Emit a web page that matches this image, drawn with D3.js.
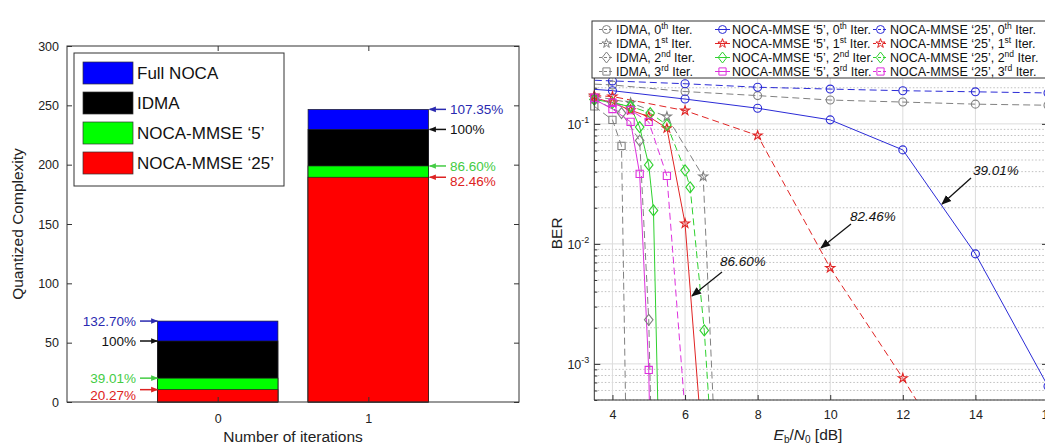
<!DOCTYPE html>
<html>
<head>
<meta charset="utf-8">
<script src="https://cdn.jsdelivr.net/npm/d3@7"></script>
<style>
  body { margin: 0; background: #fff; }
  svg { font-family: "Liberation Sans", Arial, sans-serif; }
</style>
</head>
<body>
<svg id="chart" width="1045" height="446"></svg>
<script>
// ---- left panel data: quantized complexity per iteration ----
const iterations = [0, 1];
const fullNoca = [68.2, 246.6];
const idma = [51.4, 229.7];
const nocaMmse5 = [20.1, 198.9];
const nocaMmse25 = [10.4, 189.4];
const pctLeft = [["132.70%", "100%", "39.01%", "20.27%"], ["107.35%", "100%", "86.60%", "82.46%"]];
const barTicks = [0, 50, 100, 150, 200, 250, 300];

// ---- right panel data: BER vs Eb/N0 ----
const ebno0 = [2, 4, 6, 8, 10, 12, 14, 16];
const berIdma0 = [0.225, 0.211, 0.186, 0.172, 0.158, 0.152, 0.146, 0.143];
const berNoca5_0 = [0.21, 0.189, 0.161, 0.135, 0.108, 0.0607, 0.00826, 0.00065];
const berNoca25_0 = [0.24, 0.228, 0.216, 0.202, 0.195, 0.189, 0.185, 0.181];

const ebnoIdma1 = [3.5, 4.5, 5.5, 6.5, 7.5];
const berIdma1 = [0.17, 0.15, 0.115, 0.0364, 5e-9];
const ebnoIdma2 = [3.5, 4.25, 4.75, 5.0, 5.25];
const berIdma2 = [0.16, 0.123, 0.0726, 0.00233, 1e-6];
const ebnoIdma3 = [3.5, 4, 4.25, 4.5];
const berIdma3 = [0.14, 0.108, 0.0656, 1e-6];

const ebnoNoca5_1 = [3.5, 4, 4.5, 5, 5.5, 6, 6.5];
const berNoca5_1 = [0.165, 0.15, 0.13, 0.115, 0.092, 0.0148, 1.7e-4];
const ebnoNoca25_1 = [3.5, 4, 6, 8, 10, 12, 14];
const berNoca25_1 = [0.172, 0.169, 0.129, 0.08, 0.0063, 7.6e-4, 8e-5];

const ebnoNoca5_2 = [3.5, 4, 4.5, 4.75, 5.0, 5.13, 5.3];
const berNoca5_2 = [0.16, 0.15, 0.139, 0.094, 0.0455, 0.019, 1e-4];
const ebnoNoca25_2 = [3.5, 4.5, 5.04, 5.5, 6.0, 6.14, 6.53, 6.8];
const berNoca25_2 = [0.16, 0.14, 0.123, 0.098, 0.041, 0.0296, 0.0019, 1e-4];

const ebnoNoca5_3 = [3.5, 4, 4.5, 4.75, 5.0, 5.25];
const berNoca5_3 = [0.16, 0.133, 0.104, 0.0383, 8.9e-4, 1e-7];
const ebnoNoca25_3 = [3.5, 4, 4.5, 5.0, 5.5, 6.0, 6.5];
const berNoca25_3 = [0.165, 0.15, 0.13, 0.104, 0.0369, 4e-4, 1e-7];

const xTicksRight = [4, 6, 8, 10, 12, 14, 16];

const svg = d3.select("#chart");

// ================= left panel =================
const xL = d3.scaleLinear().domain([-1, 2]).range([67, 519]);
const yL = d3.scaleLinear().domain([0, 300]).range([402, 46]);
const bw = xL(0.4) - xL(-0.4);
const barColors = ["#0000ff", "#000000", "#00ff00", "#ff0000"];
const barSeries = [fullNoca, idma, nocaMmse5, nocaMmse25];

const left = svg.append("g");
barSeries.forEach((vals, s) => {
  left.selectAll(null).data(iterations).enter().append("rect")
    .attr("x", d => xL(d) - bw / 2)
    .attr("y", (d, i) => yL(vals[i]))
    .attr("width", bw)
    .attr("height", (d, i) => yL(0) - yL(vals[i]))
    .attr("fill", barColors[s])
    .attr("stroke", "#222").attr("stroke-width", 0.7);
});

// frame
left.append("rect").attr("x", 67).attr("y", 46).attr("width", 452).attr("height", 356)
  .attr("fill", "none").attr("stroke", "#333").attr("stroke-width", 1);

left.append("g").attr("transform", "translate(67,0)")
  .call(d3.axisLeft(yL).tickValues(barTicks).tickSize(-5).tickPadding(8))
  .call(g => g.select(".domain").remove())
  .call(g => g.selectAll("text").attr("font-size", 12.5).attr("fill", "#222"));
left.append("g").attr("transform", "translate(519,0)")
  .call(d3.axisRight(yL).tickValues(barTicks).tickSize(-5).tickFormat(""))
  .call(g => g.select(".domain").remove());
left.append("g").attr("transform", "translate(0,402)")
  .call(d3.axisBottom(xL).tickValues(iterations).tickSize(-5).tickPadding(12).tickFormat(d3.format("d")))
  .call(g => g.select(".domain").remove())
  .call(g => g.selectAll("text").attr("font-size", 12.5).attr("fill", "#222"));
left.append("g").attr("transform", "translate(0,46)")
  .call(d3.axisTop(xL).tickValues(iterations).tickSize(-5).tickFormat(""))
  .call(g => g.select(".domain").remove());
left.selectAll(".tick line").attr("stroke", "#333");

left.append("text").attr("x", 293).attr("y", 442).attr("text-anchor", "middle")
  .attr("font-size", 15.5).attr("fill", "#222").text("Number of iterations");
left.append("text").attr("transform", "translate(23,224) rotate(-90)").attr("text-anchor", "middle")
  .attr("font-size", 15.5).attr("fill", "#222").text("Quantized Complexity");

// legend
const legNames = ["Full NOCA", "IDMA", "NOCA-MMSE \u20185\u2019", "NOCA-MMSE \u201825\u2019"];
left.append("rect").attr("x", 74).attr("y", 53).attr("width", 210).attr("height", 133)
  .attr("fill", "#fff").attr("stroke", "#333");
legNames.forEach((n, i) => {
  const cy = 73 + i * 30;
  left.append("rect").attr("x", 83).attr("y", cy - 11).attr("width", 50).attr("height", 22)
    .attr("fill", barColors[i]).attr("stroke", "#333").attr("stroke-width", 0.7);
  left.append("text").attr("x", 137).attr("y", cy + 6).attr("font-size", 17).attr("fill", "#111").text(n);
});

// percentage arrows
const defs = svg.append("defs");
["#2a2ab0", "#111111", "#44cc44", "#dd2222"].forEach((c, i) => {
  defs.append("marker").attr("id", "ah" + i).attr("viewBox", "0 0 10 10")
    .attr("refX", 9).attr("refY", 5).attr("markerWidth", 7).attr("markerHeight", 7)
    .attr("markerUnits", "userSpaceOnUse").attr("orient", "auto")
    .append("path").attr("d", "M0,1 L10,5 L0,9 Z").attr("fill", c);
});
defs.append("marker").attr("id", "ahk").attr("viewBox", "0 0 10 10")
  .attr("refX", 9).attr("refY", 5).attr("markerWidth", 10).attr("markerHeight", 10)
  .attr("markerUnits", "userSpaceOnUse").attr("orient", "auto")
  .append("path").attr("d", "M0,1 L10,5 L0,9 Z").attr("fill", "#111");

const pctColors = ["#2a2ab0", "#111111", "#44cc44", "#dd2222"];
barSeries.forEach((vals, s) => {
  // iteration 0: arrows pointing right, text on the left
  const yv0 = yL(vals[0]);
  const ty0 = s === 3 ? yv0 + 5 : yv0;
  left.append("line").attr("x1", 140).attr("y1", yv0).attr("x2", xL(0) - bw / 2).attr("y2", yv0)
    .attr("stroke", pctColors[s]).attr("stroke-width", 1.5).attr("marker-end", `url(#ah${s})`);
  left.append("text").attr("x", 136).attr("y", ty0 + 5).attr("text-anchor", "end")
    .attr("font-size", 13.5).attr("fill", pctColors[s]).text(pctLeft[0][s]);
  // iteration 1: arrows pointing left, text on the right
  const yv1 = yL(vals[1]);
  const ty1 = s === 3 ? yv1 + 4 : yv1;
  left.append("line").attr("x1", 446).attr("y1", yv1).attr("x2", xL(1) + bw / 2 + 1).attr("y2", yv1)
    .attr("stroke", pctColors[s]).attr("stroke-width", 1.5).attr("marker-end", `url(#ah${s})`);
  left.append("text").attr("x", 450).attr("y", ty1 + 5).attr("text-anchor", "start")
    .attr("font-size", 13.5).attr("fill", pctColors[s]).text(pctLeft[1][s]);
});

// ================= right panel =================
const yMin = 5e-4, yMax = 0.3;
const x0 = 594.3, x1 = 1048, yBot = 400;
const yTop = yBot - 120 * Math.log10(yMax / yMin);
const xR = d3.scaleLinear().domain([3.5, 16]).range([x0, x1]);
const yR = d3.scaleLog().domain([yMin, yMax]).range([yBot, yTop]);
const right = svg.append("g");

right.append("clipPath").attr("id", "plotclip").append("rect")
  .attr("x", x0).attr("y", yTop).attr("width", x1 - x0).attr("height", yBot - yTop);

// grid
const minorY = [];
[1e-4, 1e-3, 1e-2, 1e-1].forEach(d => {
  for (let k = 2; k <= 9; k++) if (d * k >= yMin && d * k <= yMax) minorY.push(d * k);
});
right.selectAll(null).data(minorY).enter().append("line")
  .attr("x1", x0).attr("x2", x1).attr("y1", d => yR(d)).attr("y2", d => yR(d))
  .attr("stroke", "#b0b0b0").attr("stroke-width", 0.8).attr("stroke-dasharray", "1.5,2");
right.selectAll(null).data([1e-3, 1e-2, 1e-1]).enter().append("line")
  .attr("x1", x0).attr("x2", x1).attr("y1", d => yR(d)).attr("y2", d => yR(d))
  .attr("stroke", "#dcdcdc").attr("stroke-width", 1);
right.selectAll(null).data(xTicksRight).enter().append("line")
  .attr("x1", d => xR(d)).attr("x2", d => xR(d)).attr("y1", yTop).attr("y2", yBot)
  .attr("stroke", "#dcdcdc").attr("stroke-width", 1);

// series
const gray = "#808080", blue = "#2b2bd6", red = "#e02424", green = "#2fd12f", mag = "#dd30dd";
const series = [
  { x: ebno0, y: berIdma0, c: gray, dash: true, m: "o" },
  { x: ebnoIdma1, y: berIdma1, c: gray, dash: true, m: "p" },
  { x: ebnoIdma2, y: berIdma2, c: gray, dash: true, m: "d" },
  { x: ebnoIdma3, y: berIdma3, c: gray, dash: true, m: "s" },
  { x: ebno0, y: berNoca5_0, c: blue, dash: false, m: "o" },
  { x: ebnoNoca5_1, y: berNoca5_1, c: red, dash: false, m: "p" },
  { x: ebnoNoca5_2, y: berNoca5_2, c: green, dash: false, m: "d" },
  { x: ebnoNoca5_3, y: berNoca5_3, c: mag, dash: false, m: "s" },
  { x: ebno0, y: berNoca25_0, c: blue, dash: true, m: "o" },
  { x: ebnoNoca25_1, y: berNoca25_1, c: red, dash: true, m: "p" },
  { x: ebnoNoca25_2, y: berNoca25_2, c: green, dash: true, m: "d" },
  { x: ebnoNoca25_3, y: berNoca25_3, c: mag, dash: true, m: "s" }
];

function markerPath(m) {
  if (m === "o") return d3.symbol(d3.symbolCircle, 50)();
  if (m === "p") return d3.symbol(d3.symbolStar, 26)();
  if (m === "s") return d3.symbol(d3.symbolSquare, 52)();
  return "M0,-5.5L4.3,0L0,5.5L-4.3,0Z";
}

const line = d3.line().x(d => xR(d[0])).y(d => yR(d[1]));
const plot = right.append("g").attr("clip-path", "url(#plotclip)");
series.forEach(s => {
  const pts = s.x.map((v, i) => [v, s.y[i]]);
  plot.append("path").datum(pts).attr("d", line).attr("fill", "none")
    .attr("stroke", s.c).attr("stroke-width", 1)
    .attr("stroke-dasharray", s.dash ? "7,4" : null);
});
series.forEach(s => {
  const pts = s.x.map((v, i) => [v, s.y[i]]).filter(p => p[1] >= yMin && p[0] >= 3.5);
  right.selectAll(null).data(pts).enter().append("path")
    .attr("d", markerPath(s.m))
    .attr("transform", d => `translate(${xR(d[0])},${yR(d[1])})`)
    .attr("fill", "none").attr("stroke", s.c).attr("stroke-width", 1.1);
});

// axes frame and ticks
right.append("line").attr("x1", x0).attr("x2", x0).attr("y1", yTop).attr("y2", yBot).attr("stroke", "#333");
right.append("line").attr("x1", x0).attr("x2", x1).attr("y1", yBot).attr("y2", yBot).attr("stroke", "#333");
right.append("line").attr("x1", x1).attr("x2", x1).attr("y1", yTop).attr("y2", yBot).attr("stroke", "#333");
right.append("g").attr("transform", `translate(0,${yBot})`)
  .call(d3.axisBottom(xR).tickValues(xTicksRight).tickSize(-5).tickPadding(10).tickFormat(d3.format("d")))
  .call(g => g.select(".domain").remove())
  .call(g => g.selectAll("text").attr("font-size", 12.5).attr("fill", "#222"));
const decades = [1e-3, 1e-2, 1e-1];
right.append("g").attr("transform", `translate(${x0},0)`)
  .call(d3.axisLeft(yR).tickValues(decades).tickSize(-6).tickFormat(""))
  .call(g => g.select(".domain").remove());
right.append("g").attr("transform", `translate(${x0},0)`)
  .call(d3.axisLeft(yR).tickValues(minorY).tickSize(-3).tickFormat(""))
  .call(g => g.select(".domain").remove());
right.append("g").attr("transform", `translate(${x1},0)`)
  .call(d3.axisRight(yR).tickValues(decades).tickSize(-6).tickFormat(""))
  .call(g => g.select(".domain").remove());
right.append("g").attr("transform", `translate(${x1},0)`)
  .call(d3.axisRight(yR).tickValues(minorY).tickSize(-3).tickFormat(""))
  .call(g => g.select(".domain").remove());
right.selectAll(".tick line").attr("stroke", "#333");

decades.forEach(d => {
  const t = right.append("text").attr("x", x0 - 5).attr("y", yR(d) + 5).attr("text-anchor", "end")
    .attr("font-size", 12.5).attr("fill", "#222");
  t.append("tspan").text("10");
  t.append("tspan").attr("dy", -6).attr("font-size", 9).text(String(Math.round(Math.log10(d))));
});

right.append("text").attr("transform", `translate(562,${(yTop + yBot) / 2}) rotate(-90)`).attr("text-anchor", "middle")
  .attr("font-size", 15.5).attr("fill", "#222").text("BER");
const xl = right.append("text").attr("x", 808).attr("y", 440).attr("text-anchor", "middle")
  .attr("font-size", 15.5).attr("fill", "#222");
xl.append("tspan").attr("font-style", "italic").text("E");
xl.append("tspan").attr("font-size", 10).attr("dy", 3).text("b");
xl.append("tspan").attr("dy", -3).text("/");
xl.append("tspan").attr("font-style", "italic").text("N");
xl.append("tspan").attr("font-size", 10).attr("dy", 3).text("0");
xl.append("tspan").attr("dy", -3).text(" [dB]");

// annotations
const notes = [
  { t: "39.01%", tx: 973, ty: 175, ax1: 971, ay1: 178, ax2: 942, ay2: 204 },
  { t: "82.46%", tx: 850, ty: 221, ax1: 851, ay1: 224, ax2: 821, ay2: 248 },
  { t: "86.60%", tx: 720, ty: 266, ax1: 722, ay1: 272, ax2: 692, ay2: 296 }
];
notes.forEach(n => {
  right.append("text").attr("x", n.tx).attr("y", n.ty).attr("font-size", 13.5)
    .attr("font-style", "italic").attr("fill", "#111").text(n.t);
  right.append("line").attr("x1", n.ax1).attr("y1", n.ay1).attr("x2", n.ax2).attr("y2", n.ay2)
    .attr("stroke", "#111").attr("stroke-width", 1.3).attr("marker-end", "url(#ahk)");
});

// legend
const legR = right.append("g");
legR.append("rect").attr("x", 592).attr("y", 21).attr("width", 480).attr("height", 57)
  .attr("fill", "#fff").attr("stroke", "#333");
const sup = ["th", "st", "nd", "rd"];
const colX = [{ l: 599, t: 616 }, { l: 715, t: 732 }, { l: 873, t: 890 }];
const colName = ["IDMA, ", "NOCA-MMSE \u20185\u2019, ", "NOCA-MMSE \u201825\u2019, "];
series.forEach((s, i) => {
  const col = Math.floor(i / 4), row = i % 4;
  const cy = 29.5 + row * 14;
  const cx = colX[col];
  legR.append("line").attr("x1", cx.l).attr("x2", cx.l + 15).attr("y1", cy).attr("y2", cy)
    .attr("stroke", s.c).attr("stroke-dasharray", s.dash ? "3,2" : null);
  legR.append("path").attr("d", markerPath(s.m)).attr("transform", `translate(${cx.l + 7.5},${cy})`)
    .attr("fill", "none").attr("stroke", s.c).attr("stroke-width", 1);
  const t = legR.append("text").attr("x", cx.t).attr("y", cy + 4.5).attr("font-size", 12.5).attr("fill", "#111");
  t.append("tspan").text(colName[col] + row);
  t.append("tspan").attr("dy", -5).attr("font-size", 8.5).text(sup[row]);
  t.append("tspan").attr("dy", 5).text(" Iter.");
});
</script>
</body>
</html>
